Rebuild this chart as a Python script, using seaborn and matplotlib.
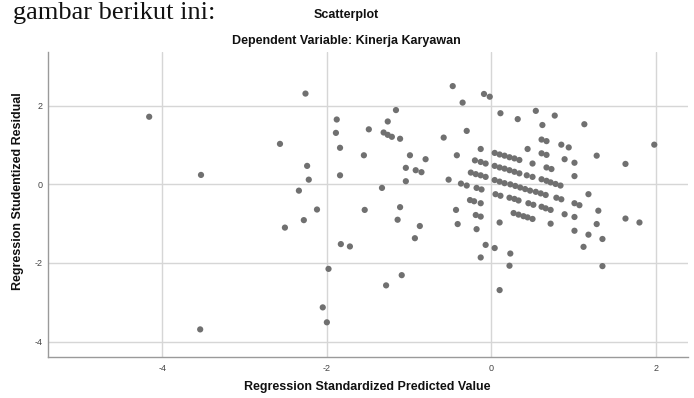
import matplotlib
matplotlib.use("Agg")
import matplotlib.pyplot as plt
import seaborn as sns
import pandas as pd

# Data: (standardized predicted value, studentized residual)
pred = [
    -2.26, -4.16, -1.88, -1.89, -1.49, -2.57, -1.84, -1.55, -2.24, -3.53, -1.84, -2.22,
    -2.34, -2.12, -1.54, -2.28, -2.51, -1.83, -1.72, -1.98, -2.05, -2.00, -3.54,
    -0.47, -0.09, -0.02, -0.35, -1.16, 0.11, 0.54, 0.77, 0.32, -1.26, 0.62, 1.13,
    -1.31, -1.26, -1.21, -1.11, -0.30, -0.58, 0.61, 0.67, 0.85, 0.94, 1.98, -0.13, 0.44,
    -0.99, -0.42, -0.80,
    0.04, 0.10, 0.16, 0.22, 0.28, 0.34,
    0.61, 0.67, 0.89, 1.01, 1.28, 1.63, 0.50,
    -0.20, -0.13, -0.07,
    -1.04, -0.92, -0.85,
    0.04, 0.10, 0.16, 0.22, 0.28, 0.34,
    0.67, 0.73, 0.43, 0.50, 1.01,
    -0.25, -0.19, -0.13, -0.07,
    -1.04, -0.52,
    0.04, 0.10, 0.16, 0.23, 0.29, 0.35, 0.41, 0.47, 0.54, 0.60, 0.66,
    0.61, 0.67, 0.72, 0.78, 0.84,
    -0.37, -0.30, -0.18, -0.12, -1.33, 1.18,
    0.05, 0.11, 0.22, 0.28, 0.33, 0.45, 0.51, 0.61, 0.66, 0.72, 0.79, 0.85, 1.01, 1.07,
    -0.26, -0.21, -0.13, -1.11, -0.43, 1.30, -0.19, -0.13,
    0.27, 0.33, 0.39, 0.44, 0.50,
    0.89, 1.01, -1.14, 1.63, 1.80, 0.10, -0.41, 0.72, 1.28, -0.87, -0.18, 1.01, 1.18,
    -0.93, 1.35, -0.07, 0.04, 1.12, 0.23, -0.13, 0.22, 1.35, -1.09, -1.28, 0.10,
]
resid = [
    2.31, 1.72, 1.65, 1.31, 1.40, 1.03, 0.93, 0.74, 0.47, 0.24, 0.23, 0.12,
    -0.16, -0.64, -0.65, -0.91, -1.10, -1.52, -1.58, -2.15, -3.13, -3.51, -3.69,
    2.50, 2.30, 2.23, 2.08, 1.89, 1.81, 1.87, 1.75, 1.66, 1.60, 1.51, 1.53,
    1.32, 1.26, 1.21, 1.16, 1.36, 1.19, 1.14, 1.10, 1.01, 0.94, 1.01, 0.90, 0.90,
    0.74, 0.74, 0.64,
    0.80, 0.76, 0.73, 0.69, 0.66, 0.62,
    0.79, 0.75, 0.64, 0.55, 0.73, 0.52, 0.53,
    0.61, 0.57, 0.53,
    0.42, 0.36, 0.31,
    0.47, 0.43, 0.40, 0.36, 0.32, 0.28,
    0.43, 0.39, 0.23, 0.19, 0.21,
    0.30, 0.26, 0.23, 0.19,
    0.08, 0.12,
    0.11, 0.07, 0.03, 0.00, -0.04, -0.08, -0.12, -0.16, -0.19, -0.23, -0.27,
    0.13, 0.09, 0.05, 0.01, -0.03,
    0.02, -0.03, -0.09, -0.13, -0.09, -0.25,
    -0.25, -0.29, -0.34, -0.37, -0.41, -0.48, -0.52, -0.57, -0.61, -0.65, -0.34, -0.38, -0.48, -0.53,
    -0.40, -0.43, -0.48, -0.58, -0.65, -0.67, -0.78, -0.82,
    -0.73, -0.77, -0.81, -0.84, -0.88,
    -0.76, -0.83, -0.90, -0.87, -0.97, -0.97, -1.01, -1.00, -1.01, -1.06, -1.14, -1.18, -1.28,
    -1.37, -1.39, -1.54, -1.62, -1.59, -1.76, -1.86, -2.07, -2.08, -2.31, -2.57, -2.69,
]
x_ticks = [-4, -2, 0, 2]
y_ticks = [-4, -2, 0, 2]
title = "Scatterplot"
subtitle = "Dependent Variable: Kinerja Karyawan"
x_label = "Regression Standardized Predicted Value"
y_label = "Regression Studentized Residual"
doc_text = "gambar berikut ini:"

df = pd.DataFrame({"pred": pred, "resid": resid})

sns.set_theme(style="white")
plt.rcParams["font.family"] = ["Liberation Sans", "DejaVu Sans"]

fig = plt.figure(figsize=(6.94, 3.98), dpi=100)
ax = fig.add_axes([48 / 694, 40.7 / 398, 640 / 694, 305 / 398])

sns.scatterplot(data=df, x="pred", y="resid", ax=ax, color="#707070",
                s=20, edgecolor="none", linewidth=0, zorder=3)

ax.set_xlim(-5.39, 2.39)
ax.set_ylim(-4.40, 3.36)
ax.set_xticks(x_ticks)
ax.set_yticks(y_ticks)
ax.set_xticklabels([str(v) for v in x_ticks])
ax.set_yticklabels([str(v) for v in y_ticks])
ax.grid(True, color="#d6d6d6", linewidth=1.0, zorder=0)
ax.set_axisbelow(True)
for side in ["top", "right"]:
    ax.spines[side].set_visible(False)
for side in ["left", "bottom"]:
    ax.spines[side].set_color("#9a9a9a")
    ax.spines[side].set_linewidth(1.0)
ax.tick_params(axis="both", length=0, labelsize=6.5, labelcolor="#444444")
ax.tick_params(axis="x", pad=5)
ax.tick_params(axis="y", pad=4)
ax.set_xlabel("")
ax.set_ylabel("")

fig.text(346 / 694, 1 - 15 / 398, title, ha="center", va="center",
         fontsize=9, fontweight="bold", color="#111111")
fig.text(346 / 694, 1 - 41 / 398, subtitle, ha="center", va="center",
         fontsize=9, fontweight="bold", color="#111111")
fig.text(367 / 694, 8 / 398, x_label, ha="center", va="baseline",
         fontsize=9, fontweight="bold", color="#111111")
fig.text(18 / 694, 1 - 191 / 398, y_label, ha="center", va="center",
         rotation=90, fontsize=9, fontweight="bold", color="#111111")
fig.text(13 / 694, 1 - 2 / 398, doc_text, ha="left", va="top",
         fontsize=19, family=["Liberation Serif", "DejaVu Serif"], color="#111111")

fig.savefig("out.png", dpi=100)
